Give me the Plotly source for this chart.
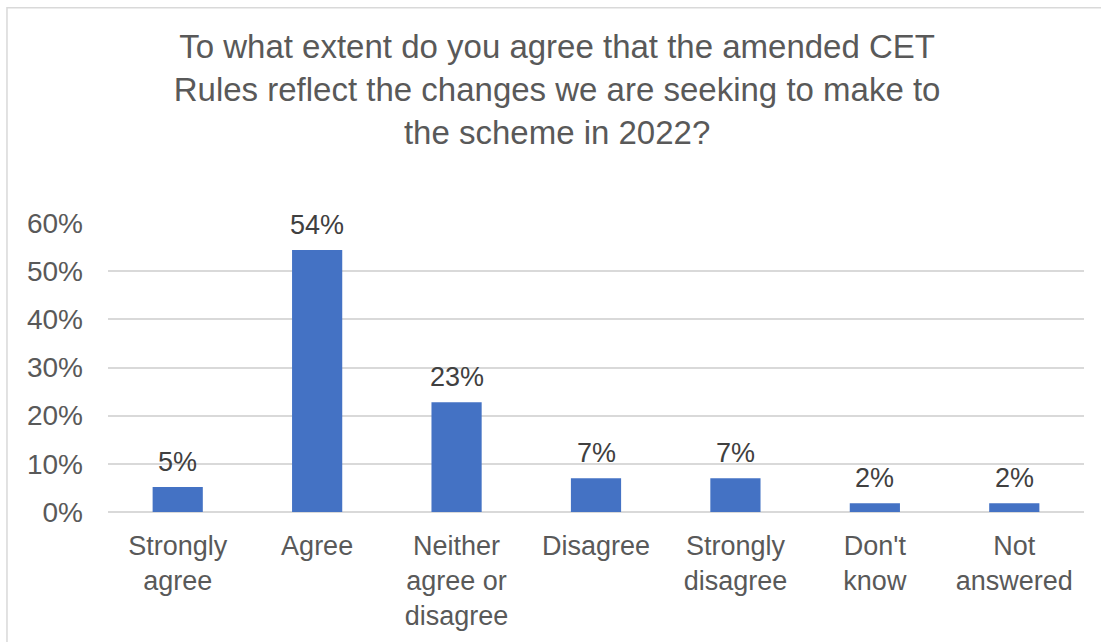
import plotly.graph_objects as go

categories = ["Strongly<br>agree", "Agree", "Neither<br>agree or<br>disagree", "Disagree",
              "Strongly<br>disagree", "Don't<br>know", "Not<br>answered"]
values = [0.052, 0.544, 0.228, 0.070, 0.070, 0.018, 0.018]
tick_vals = [0, 0.1, 0.2, 0.3, 0.4, 0.5, 0.6]
tick_text = ["0%", "10%", "20%", "30%", "40%", "50%", "60%"]
title_text = ("To what extent do you agree that the amended CET<br>"
              "Rules reflect the changes we are seeking to make to<br>"
              "the scheme in 2022?")

FONT = "Liberation Sans, Arial, sans-serif"

fig = go.Figure()
fig.add_trace(go.Bar(
    x=categories, y=values,
    marker=dict(color="#4472C4", line=dict(width=0)),
    width=0.36,
))

for c, v in zip(categories, values):
    fig.add_annotation(x=c, y=v, text=f"{round(v*100)}%", showarrow=False,
                       yanchor="bottom", yshift=8,
                       font=dict(family=FONT, size=27, color="#404040"))

fig.update_layout(
    width=1101, height=642,
    margin=dict(l=108, r=17, t=223, b=130),
    paper_bgcolor="white", plot_bgcolor="white",
    showlegend=False,
    title=dict(text=title_text, x=0.506, xref="container", xanchor="center",
               y=0.91, yref="container", yanchor="top",
               font=dict(family=FONT, size=33, color="#595959")),
    font=dict(family=FONT, color="#595959"),
)
fig.update_yaxes(range=[0, 0.6], tickvals=tick_vals, ticktext=tick_text,
                 showgrid=True, gridcolor="#D9D9D9", gridwidth=1.5,
                 zeroline=True, zerolinecolor="#D9D9D9", zerolinewidth=1.5,
                 showline=False, ticks="", ticklen=0, ticklabelstandoff=24,
                 tickfont=dict(family=FONT, size=28, color="#595959"))
fig.update_xaxes(showgrid=False, showline=False, ticks="", ticklabelstandoff=15,
                 tickfont=dict(family=FONT, size=27, color="#595959"),
                 tickangle=0)

# chart area border
fig.add_shape(type="rect", xref="paper", yref="paper",
              x0=-0.1035, x1=1.1, y0=-0.5, y1=1.745,
              line=dict(color="#D9D9D9", width=1.5), fillcolor="rgba(0,0,0,0)", layer="below")

fig.write_html("out.html")
